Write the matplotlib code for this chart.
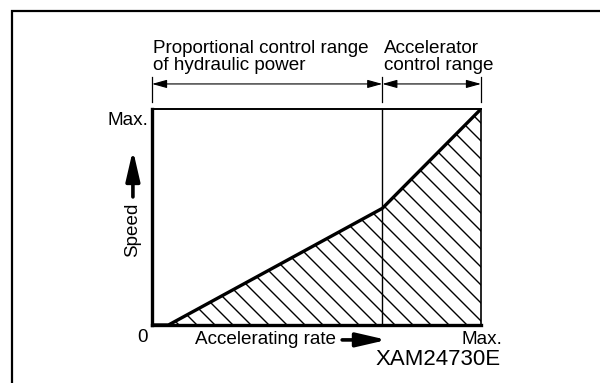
import matplotlib
matplotlib.use("Agg")
import matplotlib.pyplot as plt
import numpy as np
from matplotlib.patches import Rectangle, Polygon

# speed vs accelerating rate (0 .. Max on both axes)
rate = [0.0, 0.05, 0.70, 1.0]
speed = [0.0, 0.0, 0.54, 1.0]
split_rate = 0.70

range_labels = ["Proportional control range\nof hydraulic power",
                "Accelerator\ncontrol range"]

plt.rcParams['font.family'] = ['Liberation Sans', 'DejaVu Sans']

W, H = 600, 383
AX_W, AX_H = 329, 216  # axes box in pixels
fig = plt.figure(figsize=(W / 100, H / 100), dpi=100)

# outer frame, runs off the right and bottom edge
fig.patches.append(Rectangle((12 / W, -0.1), 2.0, (H - 11) / H + 0.1,
                             transform=fig.transFigure, fill=False,
                             lw=1.6, ec='black'))

ax = fig.add_axes([152 / W, (H - 325) / H, AX_W / W, AX_H / H])
ax.set_xlim(0, 1)
ax.set_ylim(0, 1)
ax.set_xticks([])
ax.set_yticks([])
ax.spines['left'].set_linewidth(2.4)
ax.spines['bottom'].set_linewidth(2.4)
ax.spines['top'].set_linewidth(1.4)
ax.spines['right'].set_linewidth(1.2)

# hatched area under the curve: 45 degree lines clipped to the region
region = Polygon(list(zip(rate, speed)) + [(1.0, 0.0)], closed=True,
                 facecolor='none', edgecolor='none')
ax.add_patch(region)
step = 18
for c in np.arange(step / 2, AX_W + AX_H, step):
    # line x_px + y_px = c, written in data units
    x0, x1 = c / AX_W, (c - AX_H) / AX_W
    ln, = ax.plot([x0, x1], [0, 1], color='black', lw=1.0)
    ln.set_clip_path(region)

ax.plot(rate, speed, color='black', lw=2.4, solid_capstyle='butt')
ax.axvline(split_rate, color='black', lw=1.0)

# dimension lines above the box
for xv in [0.0, split_rate, 1.0]:
    ax.plot([xv, xv], [1.032, 1.15], color='black', lw=0.9, clip_on=False)
dim = dict(arrowstyle='<|-|>,head_length=0.9,head_width=0.25',
           color='black', lw=0.8, mutation_scale=10, shrinkA=0, shrinkB=0)
ax.annotate('', xy=(0.0, 1.116), xytext=(split_rate, 1.116), arrowprops=dim,
            annotation_clip=False)
ax.annotate('', xy=(split_rate, 1.116), xytext=(1.0, 1.116), arrowprops=dim,
            annotation_clip=False)

ax.text(0.003, 1.162, range_labels[0], fontsize=13.6, va='bottom', ha='left',
        linespacing=1.0)
ax.text(split_rate + 0.006, 1.162, range_labels[1], fontsize=13.6,
        va='bottom', ha='left', linespacing=1.0)

# axis labels
big = dict(arrowstyle='-|>,head_length=1.3,head_width=0.3', color='black',
           lw=2.6, mutation_scale=14, shrinkA=0, shrinkB=0)
ax.text(-0.01, 0.926, "Max.", fontsize=13.6, ha='right', va='baseline')
ax.annotate('', xy=(-0.058, 0.81), xytext=(-0.058, 0.593), arrowprops=big,
            annotation_clip=False)
ax.text(-0.058, 0.44, "Speed", fontsize=13.6, rotation=90, ha='center',
        va='center')

ax.text(-0.03, -0.056, "0", fontsize=13.6, ha='center', va='center')
ax.text(0.131, -0.069, "Accelerating rate", fontsize=13.6, ha='left',
        va='center')
ax.annotate('', xy=(0.714, -0.069), xytext=(0.578, -0.069), arrowprops=big,
            annotation_clip=False)
ax.text(1.064, -0.069, "Max.", fontsize=13.6, ha='right', va='center')
ax.text(1.061, -0.162, "XAM24730E", fontsize=16, ha='right', va='center')

fig.savefig("out.png", dpi=100)
